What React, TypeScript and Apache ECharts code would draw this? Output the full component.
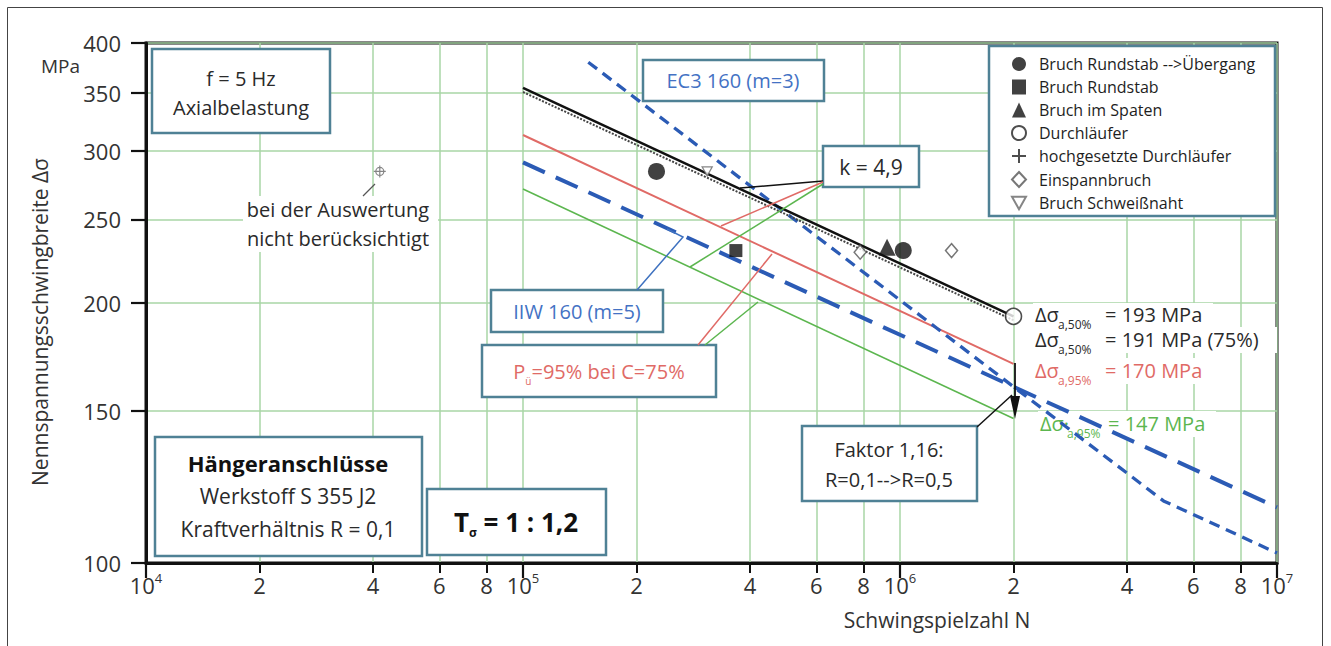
import React, { useEffect, useRef } from 'react';
import * as echarts from 'echarts';

// ---------- data ----------
const xTickValues = [1e4, 2e4, 4e4, 6e4, 8e4, 1e5, 2e5, 4e5, 6e5, 8e5, 1e6, 2e6, 4e6, 6e6, 8e6, 1e7];
const yTickValues = [100, 150, 200, 250, 300, 350, 400];

// S-N lines (N, stress range MPa)
const meanN = [1e5, 2e6];
const meanS = [355, 193]; // 50 %, k = 4,9
const conf75S = [351, 191]; // 50 % at C = 75 %
const p95S = [313, 170]; // Pü = 95 % at C = 75 %
const p95R05S = [271, 147]; // shifted by factor 1,16
const iiwN = [1e5, 2e6, 1e7];
const iiwS = [291, 160, 116];
const ec3N = [1.49e5, 2e6, 5e6, 1e7];
const ec3S = [380, 160, 118, 102.7];

// test points
const uebergangN = [2.26e5, 1.02e6];
const uebergangS = [284, 230];
const rundstabN = [3.67e5];
const rundstabS = [230];
const spatenN = [9.24e5];
const spatenS = [232];
const durchlN = [2e6];
const durchlS = [193];
const hochN: number[] = [];
const hochS: number[] = [];
const einspannN = [1.37e6, 7.84e5];
const einspannS = [230, 229];
const schweissN = [3.08e5];
const schweissS = [284];
const excludedN = [4.17e4];
const excludedS = [284];

// ---------- helpers ----------
const L = (v: number) => Math.log10(v);
const pts = (n: number[], s: number[]) => n.map((v, i) => [L(v), L(s[i])]);

const FONT = "'Open Sans', 'Noto Sans', 'DejaVu Sans', sans-serif";
const BOXC = '#4f8195';
const DARK = '#2a2a2a';
const BLUE = '#2b5bb5';
const BLUE_T = '#4472c4';
const RED = '#e06a66';
const GREEN = '#5cb64f';

function rect(x: number, y: number, w: number, h: number, z = 5, stroke: string | null = BOXC) {
  return {
    type: 'rect', z, silent: true,
    shape: { x, y, width: w, height: h },
    style: { fill: '#fff', stroke: stroke || 'none', lineWidth: stroke ? 2.5 : 0 },
  };
}
function text(x: number, y: number, t: string, o: any = {}) {
  const align = o.align || 'center';
  return {
    type: 'text', z: o.z ?? 6, silent: true, x, y, rotation: o.rotation || 0,
    style: {
      text: t, fontSize: o.fontSize || 20, fontFamily: FONT, fontWeight: o.fontWeight || 'normal',
      fill: o.fill || DARK, align, textAlign: align, verticalAlign: 'middle', textVerticalAlign: 'middle',
      rich: o.rich,
    },
  };
}
function line(pts2: number[][], stroke: string, w = 1.5, z = 6) {
  return { type: 'polyline', z, silent: true, shape: { points: pts2 }, style: { stroke, lineWidth: w, fill: 'none' } };
}
function subRich(color: string, main = 21, sub = 12) {
  return {
    a: { fontSize: main, fontFamily: FONT, fill: color, color },
    s: { fontSize: sub, fontFamily: FONT, fill: color, color, padding: [20, 0, 0, 0] },
  };
}
// Δσ with subscript and value, as separate texts
function valueText(x: number, y: number, main: string, sub: string, rest: string, color: string, subDx = 23, restDx = 70) {
  return [
    text(x, y, main, { align: 'left', z: 2, fill: color, fontSize: 20 }),
    text(x + subDx, y + 10, sub, { align: 'left', z: 2, fill: color, fontSize: 12 }),
    text(x + restDx, y, rest, { align: 'left', z: 2, fill: color, fontSize: 20 }),
  ];
}

const legendNames = [
  'Bruch Rundstab -->Übergang',
  'Bruch Rundstab',
  'Bruch im Spaten',
  'Durchläufer',
  'hochgesetzte Durchläufer',
  'Einspannbruch',
  'Bruch Schweißnaht',
];
const PLUS = 'path://M5,0L5,10M0,5L10,5';
const INV_TRI = 'path://M0,0L10,0L5,9Z';
const EXCL = 'path://M10,6A4,4,0,1,1,2,6A4,4,0,1,1,10,6Z M6,0L6,12M0,6L12,6';

function buildOption() {
  const xLabel = (v: number) => {
    const e = Math.floor(v + 1e-6);
    const m = Math.round(Math.pow(10, v - e));
    return m === 1 ? `{b|10}{s|${e}}` : `{b|${m}}`;
  };
  const lineSeries = (name: string, data: number[][], color: string, width: number, type: any) => ({
    name, type: 'line', data, symbol: 'none', silent: true, z: 3,
    lineStyle: { color, width, type, cap: 'butt' },
  });
  const sc = (name: string, data: number[][], symbol: string, size: any, itemStyle: any) => ({
    name, type: 'scatter', data, symbol, symbolSize: size, silent: true, z: 4, itemStyle,
  });
  const filled = { color: '#111', borderWidth: 0 };
  const open = { color: '#fff', borderColor: '#222', borderWidth: 1.6 };

  return {
    animation: false,
    grid: {
      left: 146, right: 54, top: 43, bottom: 83, show: true,
      borderColor: '#111', borderWidth: 3, backgroundColor: 'transparent',
      outerBoundsMode: 'none', containLabel: false,
    },
    xAxis: [
      {
        type: 'value', min: 4, max: 7, position: 'bottom',
        axisLine: { show: true, onZero: false, lineStyle: { color: '#111', width: 3 } },
        axisTick: { show: true, customValues: xTickValues.map(L), length: 10, lineStyle: { color: '#111', width: 2 } },
        axisLabel: {
          customValues: xTickValues.map(L), formatter: xLabel, margin: 8, color: '#333',
          rich: {
            b: { fontSize: 22, fontFamily: FONT, color: '#333', lineHeight: 28 },
            s: { fontSize: 13, fontFamily: FONT, color: '#333', padding: [0, 0, 14, 0] },
          },
        },
        splitLine: { show: true, lineStyle: { color: '#a9d6a6', width: 1.5 } },
      },
      {
        type: 'value', min: 4, max: 7, interval: 1, position: 'bottom',
        axisLine: { show: false, onZero: false },
        axisTick: { show: true, length: 15, lineStyle: { color: '#111', width: 2.2 } },
        axisLabel: { show: false },
        splitLine: { show: false },
      },
    ],
    yAxis: {
      type: 'value', min: L(100), max: L(400),
      axisLine: { show: true, onZero: false, lineStyle: { color: '#111', width: 3 } },
      axisTick: { show: true, customValues: yTickValues.map(L), length: 15, lineStyle: { color: '#111', width: 2.2 } },
      axisLabel: {
        customValues: yTickValues.map(L), margin: 25, fontSize: 22, fontFamily: FONT, color: '#333',
        formatter: (v: number) => String(Math.round(Math.pow(10, v))),
      },
      splitLine: { show: true, lineStyle: { color: '#a9d6a6', width: 1.5 } },
    },
    legend: {
      data: [
        { name: legendNames[0], icon: 'circle' },
        { name: legendNames[1], icon: 'rect' },
        { name: legendNames[2], icon: 'triangle' },
        { name: legendNames[3], icon: 'circle' },
        { name: legendNames[4], icon: PLUS },
        { name: legendNames[5], icon: 'diamond' },
        { name: legendNames[6], icon: INV_TRI },
      ],
      orient: 'vertical', left: 1011, top: 56, padding: 0, itemGap: 7,
      itemWidth: 14, itemHeight: 15, selectedMode: false, z: 8,
      textStyle: { fontSize: 16, fontFamily: FONT, color: '#1e1e1e', padding: [0, 0, 0, 8] },
    },
    series: [
      lineSeries('Δσ 95% R=0,5', pts(meanN, p95R05S), GREEN, 1.6, 'solid'),
      lineSeries('Pü=95% bei C=75%', pts(meanN, p95S), RED, 2, 'solid'),
      lineSeries('IIW 160 (m=5)', pts(iiwN, iiwS), BLUE, 4, [24, 12]),
      lineSeries('EC3 160 (m=3)', pts(ec3N, ec3S), BLUE, 3.3, [11, 7]),
      lineSeries('50% C=75%', pts(meanN, conf75S), '#444', 2, [2, 1.5]),
      lineSeries('50%', pts(meanN, meanS), '#111', 2.5, 'solid'),
      sc(legendNames[0], pts(uebergangN, uebergangS), 'circle', 17, filled),
      sc(legendNames[1], pts(rundstabN, rundstabS), 'rect', 13, filled),
      sc(legendNames[2], pts(spatenN, spatenS), 'triangle', 17, filled),
      sc(legendNames[3], pts(durchlN, durchlS), 'circle', 16, open),
      sc(legendNames[4], pts(hochN, hochS), PLUS, 10, { color: 'transparent', borderColor: '#222', borderWidth: 1.4 }),
      sc(legendNames[5], pts(einspannN, einspannS), 'diamond', [12, 14], { color: '#fff', borderColor: '#555', borderWidth: 1.5 }),
      sc(legendNames[6], pts(schweissN, schweissS), INV_TRI, [10, 9], { color: '#fff', borderColor: '#666', borderWidth: 1.3 }),
      sc('nicht berücksichtigt', pts(excludedN, excludedS), EXCL, 12, { color: 'transparent', borderColor: '#666', borderWidth: 1.2 }),
    ],
    graphic: {
      elements: [
        // outer frame
        line([[7.5, 646], [7.5, 7.5], [1322.5, 7.5], [1322.5, 646]], '#444', 1, 0),
        // axis names / unit
        text(80, 66, 'MPa', { align: 'right', fontSize: 19, fill: '#333', z: 6 }),
        text(40, 322, 'Nennspannungsschwingbreite Δσ', { rotation: Math.PI / 2, fontSize: 21, fill: '#333' }),
        text(937, 620, 'Schwingspielzahl N', { fontSize: 21, fill: '#333' }),
        // f = 5 Hz
        rect(152, 49, 178, 84),
        text(241, 78, 'f = 5 Hz'),
        text(241, 107, 'Axialbelastung'),
        // excluded point note
        rect(243, 196, 195, 56, 1, null),
        text(338, 209, 'bei der Auswertung', { z: 2 }),
        text(338, 238, 'nicht berücksichtigt', { z: 2 }),
        line([[363, 196], [375, 184]], '#555', 1.3, 2),
        // EC3 label
        rect(643, 60, 181, 41),
        text(733, 80, 'EC3 160 (m=3)', { fill: BLUE_T }),
        // k = 4,9
        line([[823, 181], [740, 188]], '#111', 1.5),
        line([[823, 182], [721, 226]], RED, 1.5),
        line([[823, 184], [690, 267]], GREEN, 1.5),
        rect(823, 146, 96, 41),
        text(871, 167, 'k = 4,9', { fontSize: 21 }),
        // IIW label
        line([[637, 290], [683, 237], [667, 229]], '#3f72c0', 1.5),
        rect(491, 290, 172, 42),
        text(577, 311, 'IIW 160 (m=5)', { fill: BLUE_T }),
        // Pü label
        line([[698, 345], [772, 254]], RED, 1.5),
        line([[705, 345], [758, 302]], GREEN, 1.5),
        rect(482, 345, 234, 52),
        text(599, 371, '{a|P}{s|ü}{a|=95% bei C=75%}', { fill: RED, rich: subRich(RED, 20, 10) }),
        // factor + arrow
        line([[977, 427], [1012, 395]], '#111', 1.5),
        line([[1015, 363], [1015, 400]], '#111', 1.8),
        { type: 'polygon', z: 6, silent: true, shape: { points: [[1010, 396], [1020, 396], [1015, 419]] }, style: { fill: '#111' } },
        rect(802, 426, 175, 75),
        text(889, 449, 'Faktor 1,16:'),
        text(889, 479, 'R=0,1-->R=0,5'),
        // Hängeranschlüsse
        rect(155, 437, 267, 119),
        text(288, 463, 'Hängeranschlüsse', { fontSize: 22, fontWeight: 'bold', fill: '#111' }),
        text(288, 496, 'Werkstoff S 355 J2', { fontSize: 21 }),
        text(288, 529, 'Kraftverhältnis R = 0,1', { fontSize: 21 }),
        // T sigma
        rect(427, 489, 179, 66),
        text(516, 522, '{t|T}{s|σ}{t| = 1 : 1,2}', {
          rich: {
            t: { fontSize: 26, fontWeight: 'bold', fontFamily: FONT, fill: '#111' },
            s: { fontSize: 12, fontWeight: 'bold', fontFamily: FONT, fill: '#111', padding: [20, 0, 0, 0] },
          },
        }),
        // legend frame
        rect(989, 46, 286, 170, 6),
        // values at 2e6
        rect(1033, 303, 180, 24, 1, null),
        rect(1033, 327, 244, 26, 1, null),
        rect(1033, 358, 180, 26, 1, null),
        rect(1038, 411, 178, 26, 1, null),
        ...valueText(1035, 314, 'Δσ', 'a,50%', '= 193 MPa', DARK),
        ...valueText(1035, 339, 'Δσ', 'a,50%', '= 191 MPa (75%)', DARK),
        ...valueText(1035, 370, 'Δσ', 'a,95%', '= 170 MPa', RED),
        ...valueText(1040, 423, 'Δσ·', 'a,95%', '= 147 MPa', GREEN, 27, 68),
      ],
    },
  };
}

export default function App() {
  const ref = useRef<HTMLDivElement>(null);
  useEffect(() => {
    if (!ref.current) return;
    const chart = echarts.init(ref.current, null, { renderer: 'svg' });
    chart.setOption(buildOption() as any);
    return () => chart.dispose();
  }, []);
  return (
    <div
      ref={ref}
      style={{ position: 'fixed', left: 0, top: 0, width: 1331, height: 646, background: '#fff' }}
    />
  );
}
